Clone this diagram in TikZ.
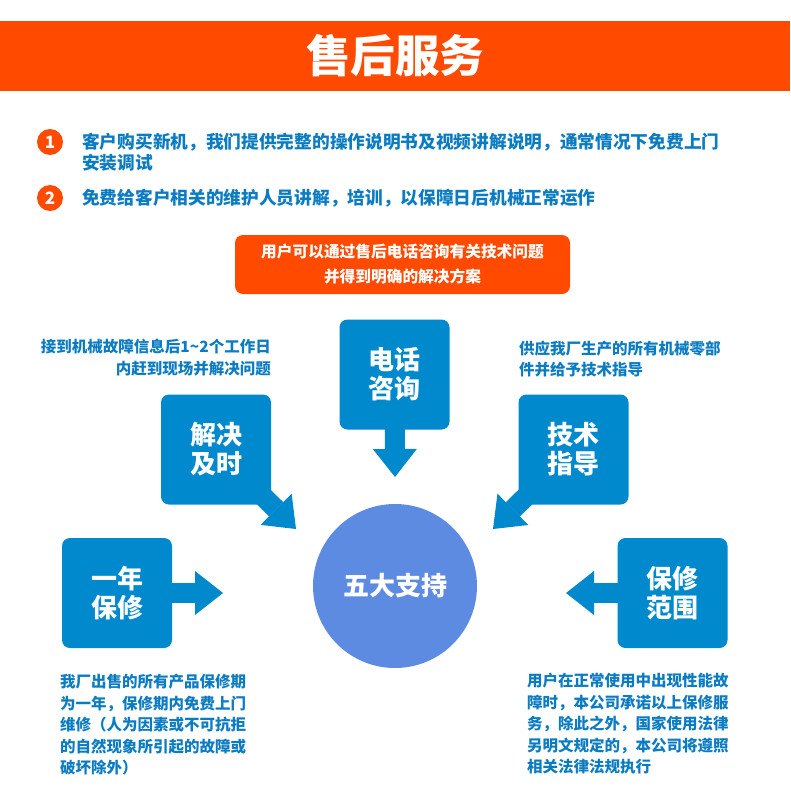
\documentclass[tikz,border=0pt]{standalone}
\usepackage{fontspec}
\setmainfont{Noto Sans CJK SC}
\usetikzlibrary{arrows.meta, backgrounds}
\definecolor{hdrorange}{RGB}{255,74,0}
\definecolor{boxblue}{RGB}{0,137,204}
\definecolor{hubblue}{RGB}{94,139,226}
\definecolor{txtblue}{RGB}{12,124,194}

\begin{document}
\begin{tikzpicture}[
  x=1pt, y=-1pt, every node/.style={inner sep=0pt},
  band/.style={fill=hdrorange, minimum width=790pt, minimum height=70pt, text=white, font=\fontsize{44.5}{50}\selectfont\bfseries},
  numdot/.style={circle, fill=hdrorange, minimum size=26pt, text=white, font=\fontsize{17}{17}\selectfont\bfseries},
  listtxt/.style={anchor=west, align=left, text=txtblue, font=\fontsize{17.7}{20.5}\selectfont\bfseries},
  callout/.style={fill=hdrorange, rounded corners=8pt, minimum width=335pt, minimum height=59pt, align=center, text=white, font=\fontsize{15.7}{25}\selectfont\bfseries},
  note/.style={text=txtblue, font=\fontsize{15.5}{21.5}\selectfont\bfseries},
  sbox/.style={fill=boxblue, rounded corners=8pt, minimum size=110pt, align=center, text=white, font=\fontsize{26}{29}\selectfont\bfseries},
  hub/.style={circle, fill=hubblue, minimum size=164pt, text=white, font=\fontsize{26}{29}\selectfont\bfseries},
  barrow/.style={draw=boxblue, line width=20pt, -{Triangle[width=44pt, length=28pt, line width=0pt]}}
]
  \useasboundingbox (0,0) rectangle (790,795);

  \node[band] (title) at (395,56) {售后服务};

  % list
  \node[numdot] (n1) at (50,142) {1};
  \node[listtxt] (t1) at (82,152) {客户购买新机，我们提供完整的操作说明书及视频讲解说明，通常情况下免费上门\\安装调试};
  \node[numdot] (n2) at (50,198) {2};
  \node[listtxt] (t2) at (82,198) {免费给客户相关的维护人员讲解，培训，以保障日后机械正常运作};

  \node[callout] (phone-note) at (402.5,264.5) {用户可以通过售后电话咨询有关技术问题\\并得到明确的解决方案};

  % five supports
  \node[hub] (hub) at (395,586) {五大支持};
  \node[sbox] (dianhua) at (394.5,374.5) {电话\\咨询};
  \node[sbox] (jiejue) at (216,449.5) {解决\\及时};
  \node[sbox] (jishu) at (573.5,449.5) {技术\\指导};
  \node[sbox] (yinian) at (117,593) {一年\\保修};
  \node[sbox] (baoxiu) at (672.5,593) {保修\\范围};

  \coordinate (dianhua-tip) at (395,477);
  \coordinate (jiejue-tip) at (296,529);
  \coordinate (jishu-tip) at (493,529);
  \coordinate (yinian-tip) at (223,593);
  \coordinate (baoxiu-tip) at (566,593);
  \begin{scope}[on background layer]
    \draw[barrow] (dianhua.center) -- (dianhua-tip);
    \draw[barrow] (jiejue.center) -- (jiejue-tip);
    \draw[barrow] (jishu.center) -- (jishu-tip);
    \draw[barrow] (yinian.center) -- (yinian-tip);
    \draw[barrow] (baoxiu.center) -- (baoxiu-tip);
  \end{scope}

  % notes
  \node[note, anchor=east, align=right] (jiejue-note) at (271,357.5) {接到机械故障信息后1\textasciitilde2个工作日\\内赶到现场并解决问题};
  \node[note, anchor=west, align=left] (jishu-note) at (519,359) {供应我厂生产的所有机械零部\\件并给予技术指导};
  \node[note, anchor=west, align=left] (yinian-note) at (60,725) {我厂出售的所有产品保修期\\为一年，保修期内免费上门\\维修（人为因素或不可抗拒\\的自然现象所引起的故障或\\破坏除外）};
  \node[note, anchor=west, align=left] (baoxiu-note) at (527,724) {用户在正常使用中出现性能故\\障时，本公司承诺以上保修服\\务，除此之外，国家使用法律\\另明文规定的，本公司将遵照\\相关法律法规执行};
\end{tikzpicture}
\end{document}
